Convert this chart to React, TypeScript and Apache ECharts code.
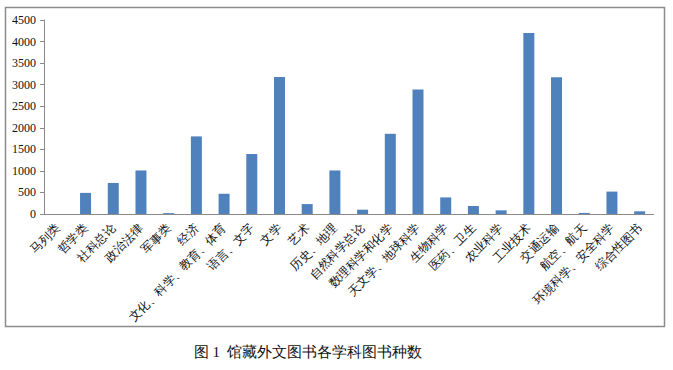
import React, { useEffect, useRef } from "react";
import * as echarts from "echarts";

const categories = [
  "马列类", "哲学类", "社科总论", "政治法律", "军事类", "经济",
  "文化、科学、教育、体育", "语言、文字", "文学", "艺术", "历史、地理",
  "自然科学总论", "数理科学和化学", "天文学、地球科学", "生物科学",
  "医药、卫生", "农业科学", "工业技术", "交通运输", "航空、航天",
  "环境科学、安全科学", "综合性图书",
];
const bookCounts = [
  0, 490, 720, 1010, 20, 1800, 470, 1390, 3180, 230, 1010,
  100, 1860, 2890, 385, 185, 85, 4200, 3170, 25, 520, 62,
];
const yTicks = { min: 0, max: 4500, interval: 500 };
const caption = "图 1  馆藏外文图书各学科图书种数";

export default function App() {
  const ref = useRef<HTMLDivElement>(null);
  useEffect(() => {
    if (!ref.current) return;
    const chart = echarts.init(ref.current, null, { renderer: "svg" });
    const font = "Liberation Serif";
    chart.setOption({
      animation: false,
      backgroundColor: "#ffffff",
      textStyle: { fontFamily: font },
      grid: { left: 44, right: 19.5, top: 20, bottom: 156, containLabel: false },
      xAxis: {
        type: "category",
        data: categories,
        axisLine: { lineStyle: { color: "#8a8a8a", width: 1 } },
        axisTick: { show: false },
        axisLabel: {
          interval: 0,
          rotate: 45,
          margin: 12,
          fontSize: 12,
          color: "#111",
          fontFamily: font,
        },
      },
      yAxis: {
        type: "value",
        min: yTicks.min,
        max: yTicks.max,
        interval: yTicks.interval,
        splitLine: { show: false },
        axisLine: { show: true, lineStyle: { color: "#8a8a8a", width: 1 } },
        axisTick: { show: true, length: 4, lineStyle: { color: "#8a8a8a" } },
        axisLabel: {
          fontSize: 12,
          color: "#111",
          margin: 8,
          fontFamily: font,
          formatter: (v: number) => String(v),
        },
      },
      series: [
        {
          type: "bar",
          data: bookCounts,
          barWidth: 11,
          itemStyle: { color: "#4f81bd" },
        },
      ],
      graphic: [
        {
          type: "rect",
          shape: { x: 5.5, y: 7.5, width: 659, height: 319 },
          style: { fill: "none", stroke: "#8c8c8c", lineWidth: 1.5 },
          silent: true,
        },
        {
          type: "text",
          x: 308,
          y: 352,
          style: {
            text: caption,
            fontSize: 15,
            fill: "#111",
            fontFamily: font,
            textAlign: "center",
            textVerticalAlign: "middle",
          },
        },
      ],
    });
    return () => chart.dispose();
  }, []);
  return (
    <div
      ref={ref}
      style={{ position: "fixed", left: 0, top: 0, width: 673, height: 370 }}
    />
  );
}
